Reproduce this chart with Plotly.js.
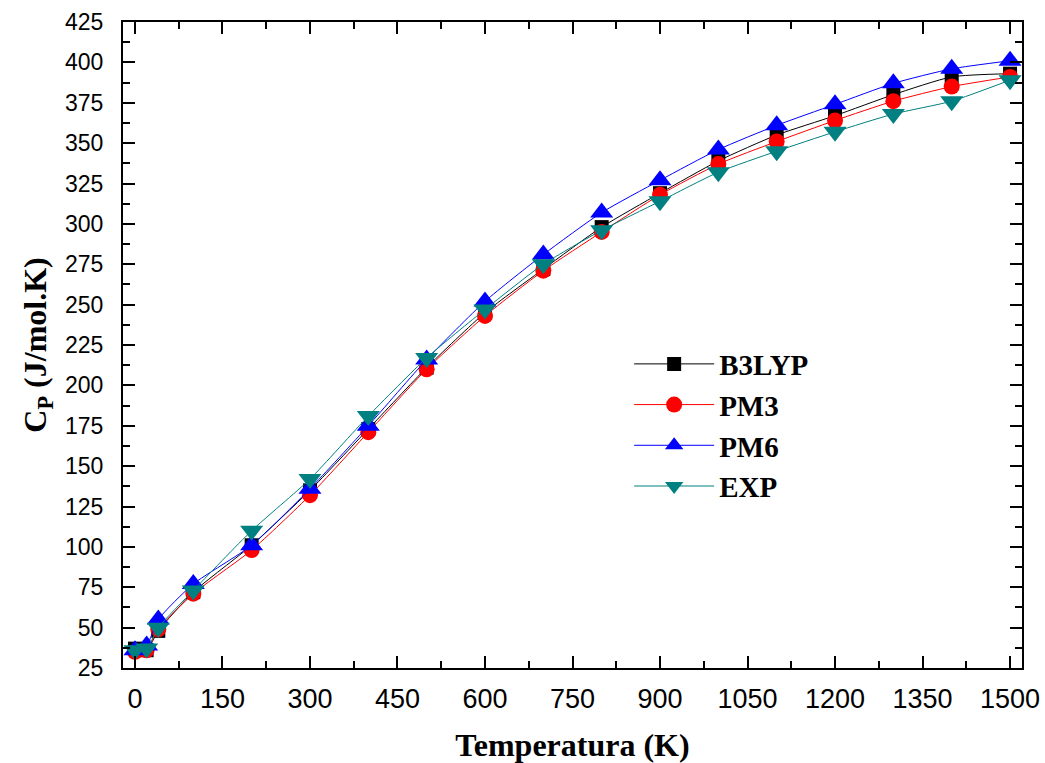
<!DOCTYPE html>
<html>
<head>
<meta charset="utf-8">
<script src="https://cdn.plot.ly/plotly-3.0.1.min.js"></script>
<style>html,body{margin:0;padding:0;background:#fff;}#chart{width:1045px;height:763px;}</style>
</head>
<body>
<div id="chart"></div>
<script>
const temperature = [0, 20, 40, 100, 200, 300, 400, 500, 600, 700, 800, 900, 1000, 1100, 1200, 1300, 1400, 1500];
const cpB3LYP = [37, 36, 48, 72, 101, 135, 173, 211, 245, 272, 298, 319, 339, 355, 367, 380, 391, 393];
const cpPM3   = [35, 36, 49, 71, 98, 132, 171, 210, 243, 271, 295, 318, 337, 351, 364, 376, 385, 391];
const cpPM6   = [36, 39, 55, 77, 101, 136, 175, 216, 252, 281, 307, 327, 346, 361, 374, 387, 396, 401];
const cpEXP   = [36, 37, 50, 73, 110, 142, 181, 217, 247, 275, 296, 314, 332, 345, 357, 368, 376, 389];
const seriesNames = ['B3LYP', 'PM3', 'PM6', 'EXP'];
const xTicks = [0, 150, 300, 450, 600, 750, 900, 1050, 1200, 1350, 1500];
const yTicks = [25, 50, 75, 100, 125, 150, 175, 200, 225, 250, 275, 300, 325, 350, 375, 400, 425];

const series = [cpB3LYP, cpPM3, cpPM6, cpEXP];
const colors = ['#000000', '#ff0000', '#0000ff', '#008080'];
const symbols = ['square', 'circle', 'triangle-up', 'triangle-down'];
const sizes = [14, 16, 20, 20];

const traces = series.map((ys, i) => ({
  x: temperature, y: ys, name: seriesNames[i],
  type: 'scatter', mode: 'lines+markers',
  line: {color: colors[i], width: 1, shape: 'spline', smoothing: 0.6},
  marker: {color: colors[i], symbol: symbols[i], size: sizes[i], line: {width: 0}}
}));

const axisCommon = {
  showline: true, linecolor: '#000', linewidth: 2, mirror: 'allticks',
  ticks: 'inside', ticklen: 12, tickwidth: 2, tickcolor: '#000',
  showgrid: false, zeroline: false
};

const layout = {
  width: 1045, height: 763,
  margin: {l: 123, r: 23, t: 22, b: 95},
  paper_bgcolor: '#fff', plot_bgcolor: '#fff',
  showlegend: true,
  legend: {
    x: 0.563, y: 0.51, xanchor: 'left', yanchor: 'top',
    bgcolor: 'rgba(0,0,0,0)', borderwidth: 0,
    font: {family: 'Liberation Serif, Times New Roman, serif', size: 29, color: '#000', weight: 'bold'},
    itemwidth: 80, tracegroupgap: 0
  },
  xaxis: Object.assign({}, axisCommon, {
    range: [-20.5, 1520.5],
    tickmode: 'array', tickvals: xTicks, ticktext: xTicks.map(String),
    minor: {dtick: 75, tick0: 0, ticks: 'inside', ticklen: 7, tickwidth: 2, tickcolor: '#000'},
    tickfont: {family: 'Liberation Sans Narrow, Arial Narrow, Liberation Sans, sans-serif', size: 27, color: '#000'},
    ticklabelstandoff: 6,
    title: {text: 'Temperatura (K)', standoff: 22,
      font: {family: 'Liberation Serif, Times New Roman, serif', size: 32, color: '#000', weight: 'bold'}}
  }),
  yaxis: Object.assign({}, axisCommon, {
    range: [25, 425],
    tickmode: 'array', tickvals: yTicks, ticktext: yTicks.map(String),
    minor: {dtick: 12.5, tick0: 25, ticks: 'inside', ticklen: 7, tickwidth: 2, tickcolor: '#000'},
    tickfont: {family: 'Liberation Sans, Arial, sans-serif', size: 23, color: '#000'},
    ticklabelstandoff: 13,
    title: {text: 'C<sub>P</sub> (J/mol.K)', standoff: 9,
      font: {family: 'Liberation Serif, Times New Roman, serif', size: 32, color: '#000', weight: 'bold'}}
  })
};

Plotly.newPlot('chart', traces, layout, {displayModeBar: false, staticPlot: true});
</script>
</body>
</html>
